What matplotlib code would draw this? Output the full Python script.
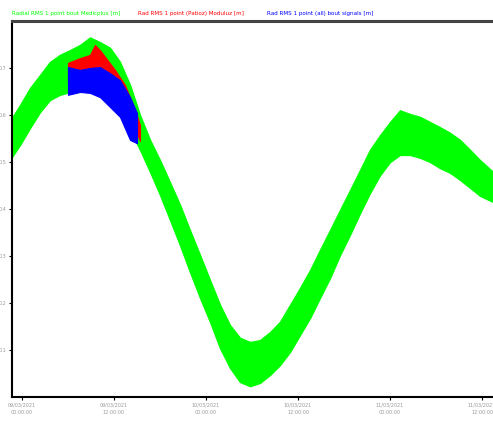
import matplotlib
matplotlib.use("Agg")
import matplotlib.pyplot as plt
import matplotlib.dates as mdates
from datetime import datetime, timedelta

# ---- data (hours since start, values) ----
start = datetime(2021, 3, 9, 0, 0, 0)

green_h = [-1.30, -0.26, 1.04, 2.35, 3.65, 4.96, 6.26, 7.57, 8.87, 10.17, 11.48, 12.78,
           14.09, 15.39, 16.70, 18.00, 19.30, 20.61, 21.91, 23.22, 24.52, 25.83, 27.13,
           28.43, 29.74, 31.04, 32.35, 33.65, 34.96, 36.26, 37.57, 38.87, 40.17, 41.48,
           42.78, 44.09, 45.39, 46.70, 48.00, 49.30, 50.61, 51.91, 53.22, 54.52, 55.83,
           57.13, 58.43, 59.74, 61.43]
green_hi = [0.594, 0.621, 0.657, 0.685, 0.713, 0.728, 0.738, 0.749, 0.765, 0.755, 0.743, 0.713,
            0.664, 0.600, 0.547, 0.504, 0.457, 0.409, 0.355, 0.302, 0.249, 0.196, 0.153,
            0.126, 0.117, 0.121, 0.138, 0.160, 0.196, 0.232, 0.270, 0.313, 0.355, 0.398,
            0.440, 0.483, 0.526, 0.557, 0.585, 0.610, 0.602, 0.596, 0.585, 0.574, 0.562,
            0.547, 0.526, 0.504, 0.479]
green_lo = [0.511, 0.536, 0.572, 0.606, 0.632, 0.643, 0.649, 0.653, 0.653, 0.649, 0.632, 0.606,
            0.568, 0.526, 0.479, 0.430, 0.377, 0.323, 0.266, 0.211, 0.160, 0.104, 0.062,
            0.032, 0.023, 0.030, 0.047, 0.068, 0.096, 0.132, 0.168, 0.211, 0.253, 0.302,
            0.345, 0.391, 0.434, 0.472, 0.500, 0.515, 0.515, 0.509, 0.500, 0.487, 0.477,
            0.462, 0.445, 0.428, 0.415]

red_h = [6.0, 7.57, 8.87, 9.52, 10.17, 12.13, 13.43, 14.74, 15.39]
red_hi = [0.711, 0.721, 0.728, 0.749, 0.738, 0.696, 0.664, 0.611, 0.579]
red_lo = [0.670, 0.672, 0.673, 0.672, 0.670, 0.640, 0.610, 0.570, 0.545]

blue_h = [6.0, 7.57, 8.87, 10.17, 11.48, 12.78, 14.09, 15.0]
blue_hi = [0.702, 0.696, 0.700, 0.702, 0.689, 0.674, 0.638, 0.604]
blue_lo = [0.643, 0.649, 0.647, 0.638, 0.617, 0.596, 0.547, 0.540]

legend_labels = ["Radial RMS 1 point bout Medicplus [m]",
                 "Rad RMS 1 point (Patioz) Moduluz [m]",
                 "Rad RMS 1 point (all) bout signals [m]"]
colors = ["#00ff00", "#ff0000", "#0000ff"]
yticks = [0.1, 0.2, 0.3, 0.4, 0.5, 0.6, 0.7]
xtick_hours = [0, 12, 24, 36, 48, 60]


def to_dt(hs):
    return [start + timedelta(hours=h) for h in hs]


fig = plt.figure(figsize=(4.93, 4.21), dpi=100)
ax = fig.add_axes([12 / 493, 1 - 397 / 421, 1 - 12 / 493, (397 - 21) / 421])

ax.fill_between(to_dt(green_h), green_lo, green_hi, color=colors[0], linewidth=1.0,
                edgecolor=colors[0], joinstyle="round")
ax.fill_between(to_dt(red_h), red_lo, red_hi, color=colors[1], linewidth=0.8,
                edgecolor=colors[1])
ax.fill_between(to_dt(blue_h), blue_lo, blue_hi, color=colors[2], linewidth=0.8,
                edgecolor=colors[2])

ax.set_xlim(start + timedelta(hours=-1.30), start + timedelta(hours=61.43))
ax.set_ylim(0.0, 0.8)
ax.set_yticks(yticks)
ax.set_yticklabels([f"{v:.1f}" for v in yticks])
ax.set_xticks(to_dt(xtick_hours))
ax.xaxis.set_major_formatter(mdates.DateFormatter("%d/%m/%Y\n%H:%M:%S"))

ax.tick_params(axis="both", labelsize=3.5, labelcolor="#999999", length=2.5,
               width=0.8, pad=1.5, color="black")
for lab in ax.get_xticklabels():
    lab.set_linespacing(1.6)

ax.spines["right"].set_visible(False)
ax.spines["top"].set_color("#444444")
ax.spines["top"].set_linewidth(2.2)
ax.spines["left"].set_linewidth(1.5)
ax.spines["bottom"].set_linewidth(1.5)

# legend-like colored labels above plot
xpos = [12 / 493, 138 / 493, 267 / 493]
for x, lab, c in zip(xpos, legend_labels, colors):
    fig.text(x, 1 - 14 / 421, lab, color=c, fontsize=4.1, va="center", ha="left")

fig.savefig("out.png", dpi=100)
